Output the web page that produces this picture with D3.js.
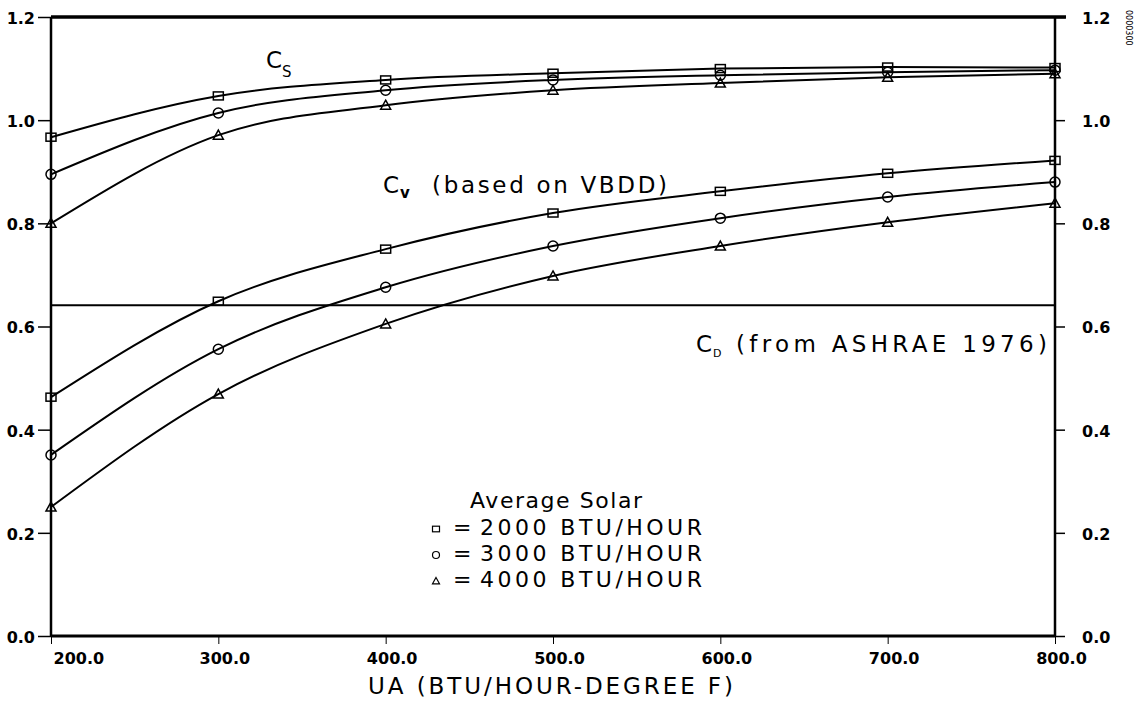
<!DOCTYPE html>
<html>
<head>
    <title>UA coefficients</title>
    <script src="https://cdn.jsdelivr.net/npm/d3@7/dist/d3.min.js"></script>
    <style>
        body { margin: 0; background: #fff; }
        #drawingPlace text { font-family: "DejaVu Sans", sans-serif; fill: #000; }
        #drawingPlace .tick text { font-weight: bold; font-size: 16px; }
    </style>
</head>
<body>
<svg id="drawingPlace" width="1138" height="704"></svg>
<script>
    // x values (UA)
    var uaValues = [200, 300, 400, 500, 600, 700, 800];
    var xTicks = [200, 300, 400, 500, 600, 700, 800];
    var yTicks = [0, 0.2, 0.4, 0.6, 0.8, 1.0, 1.2];

    // Cs curves, one per average solar level
    var cs2000 = [0.967, 1.047, 1.078, 1.091, 1.100, 1.103, 1.102];
    var cs3000 = [0.895, 1.014, 1.058, 1.078, 1.087, 1.093, 1.097];
    var cs4000 = [0.800, 0.971, 1.029, 1.058, 1.072, 1.083, 1.090];

    // Cv curves (based on VBDD)
    var cv2000 = [0.463, 0.649, 0.750, 0.820, 0.862, 0.897, 0.922];
    var cv3000 = [0.351, 0.556, 0.676, 0.756, 0.810, 0.851, 0.880];
    var cv4000 = [0.250, 0.469, 0.605, 0.698, 0.756, 0.802, 0.839];

    // Cd constant (ASHRAE 1976)
    var cdValue = 0.641;

    var legendLabels = ["2000  BTU/HOUR", "3000  BTU/HOUR", "4000  BTU/HOUR"];
    var legendShapes = ["square", "circle", "triangle"];

    var margin = {top: 17, left: 51, right: 83, bottom: 68};
    var W = 1138, H = 704;
    var w = W - margin.left - margin.right;
    var h = H - margin.top - margin.bottom;

    var svg = d3.select("#drawingPlace");
    var g = svg.append("g").attr("transform", "translate(" + margin.left + "," + margin.top + ")");

    var x = d3.scaleLinear().domain([200, 800]).range([0, w]);
    var y = d3.scaleLinear().domain([0, 1.2]).range([h, 0]);

    //axes
    var yLeft = g.append("g")
        .call(d3.axisLeft(y).tickValues(yTicks).tickSize(13).tickPadding(3).tickFormat(d3.format(".1f")));
    var yRight = g.append("g")
        .attr("transform", "translate(" + w + ",0)")
        .call(d3.axisRight(y).tickValues(yTicks).tickSize(10).tickPadding(17).tickFormat(d3.format(".1f")));
    var xAxis = g.append("g")
        .attr("transform", "translate(0," + h + ")")
        .call(d3.axisBottom(x).tickValues(xTicks).tickSize(8).tickPadding(9).tickFormat(d3.format(".1f")));

    [yLeft, yRight, xAxis].forEach(function (a) {
        a.select(".domain").remove();
        a.selectAll(".tick line").attr("stroke", "#000").attr("stroke-width", 1.5);
        a.selectAll(".tick text").attr("fill", "#000");
    });
    yLeft.selectAll(".tick text").attr("dy", "0.4em");
    yRight.selectAll(".tick text").attr("dy", "0.4em");
    xAxis.selectAll(".tick line").attr("stroke-width", 1);
    xAxis.selectAll(".tick text").attr("dx", 6);
    xAxis.selectAll(".tick text").filter(function (d) { return d === 200; })
        .attr("text-anchor", "start").attr("dx", 2);

    // frame
    g.append("line").attr("x1", 0).attr("x2", w + 11).attr("y1", 0).attr("y2", 0)
        .attr("stroke", "#000").attr("stroke-width", 3.5);
    g.append("line").attr("x1", 0).attr("x2", w).attr("y1", h).attr("y2", h)
        .attr("stroke", "#000").attr("stroke-width", 3);
    g.append("line").attr("x1", 0).attr("x2", 0).attr("y1", 0).attr("y2", h)
        .attr("stroke", "#000").attr("stroke-width", 2.5);
    g.append("line").attr("x1", w).attr("x2", w).attr("y1", 0).attr("y2", h)
        .attr("stroke", "#000").attr("stroke-width", 2.5);

    // Cd line
    g.append("line").attr("x1", 0).attr("x2", w).attr("y1", y(cdValue)).attr("y2", y(cdValue))
        .attr("stroke", "#000").attr("stroke-width", 2);

    var line = d3.line()
        .x(function (d, i) { return x(uaValues[i]); })
        .y(function (d) { return y(d); })
        .curve(d3.curveMonotoneX);

    function marker(sel, shape, s) {
        if (shape === "square") {
            sel.append("rect").attr("x", -s).attr("y", -s * 0.8).attr("width", 2 * s).attr("height", 1.6 * s);
        } else if (shape === "circle") {
            sel.append("circle").attr("r", s);
        } else {
            sel.append("path").attr("d", "M0," + (-s) + "L" + s + "," + (s * 0.8) + "L" + (-s) + "," + (s * 0.8) + "Z");
        }
        sel.selectAll("*").attr("fill", "none").attr("stroke", "#000").attr("stroke-width", 1.5);
    }

    var allSeries = [
        {vals: cs2000, shape: "square"}, {vals: cs3000, shape: "circle"}, {vals: cs4000, shape: "triangle"},
        {vals: cv2000, shape: "square"}, {vals: cv3000, shape: "circle"}, {vals: cv4000, shape: "triangle"}
    ];

    allSeries.forEach(function (s) {
        g.append("path").datum(s.vals).attr("d", line)
            .attr("fill", "none").attr("stroke", "#000").attr("stroke-width", 2);
        s.vals.forEach(function (v, i) {
            var m = g.append("g").attr("transform", "translate(" + x(uaValues[i]) + "," + y(v) + ")");
            marker(m, s.shape, 5);
        });
    });

    // curve labels
    function label(tx, ty, txt, size, len) {
        var t = svg.append("text").attr("x", tx).attr("y", ty).attr("font-size", size).text(txt);
        if (len) t.attr("textLength", len).attr("lengthAdjust", "spacing");
        return t;
    }
    label(266, 68, "C", 23);
    label(282, 77, "S", 15);
    label(383, 193, "C", 23);
    svg.append("text").attr("x", 400).attr("y", 198).attr("font-size", 15).attr("font-weight", "bold").text("v");
    label(432, 193, "(based on VBDD)", 23, 235);
    label(696, 352, "C", 23);
    label(713, 357, "D", 11);
    label(736, 352, "(from ASHRAE 1976)", 23, 311);

    // legend
    label(470, 508, "Average Solar", 22, 172);
    legendLabels.forEach(function (l, i) {
        var by = 535 + i * 26;
        label(453, by, "=", 22);
        label(480, by, l, 22, 222);
        var m = svg.append("g").attr("transform", "translate(436," + (by - 6) + ")");
        marker(m, legendShapes[i], 3.5);
        m.selectAll("*").attr("stroke-width", 1.2);
    });

    // axis title
    label(368, 694, "UA (BTU/HOUR-DEGREE F)", 23, 365);

    // small rotated stamp at top right
    svg.append("text").attr("transform", "translate(1126,10) rotate(90)")
        .attr("font-size", 8).text("0000300");
</script>
</body>
</html>
